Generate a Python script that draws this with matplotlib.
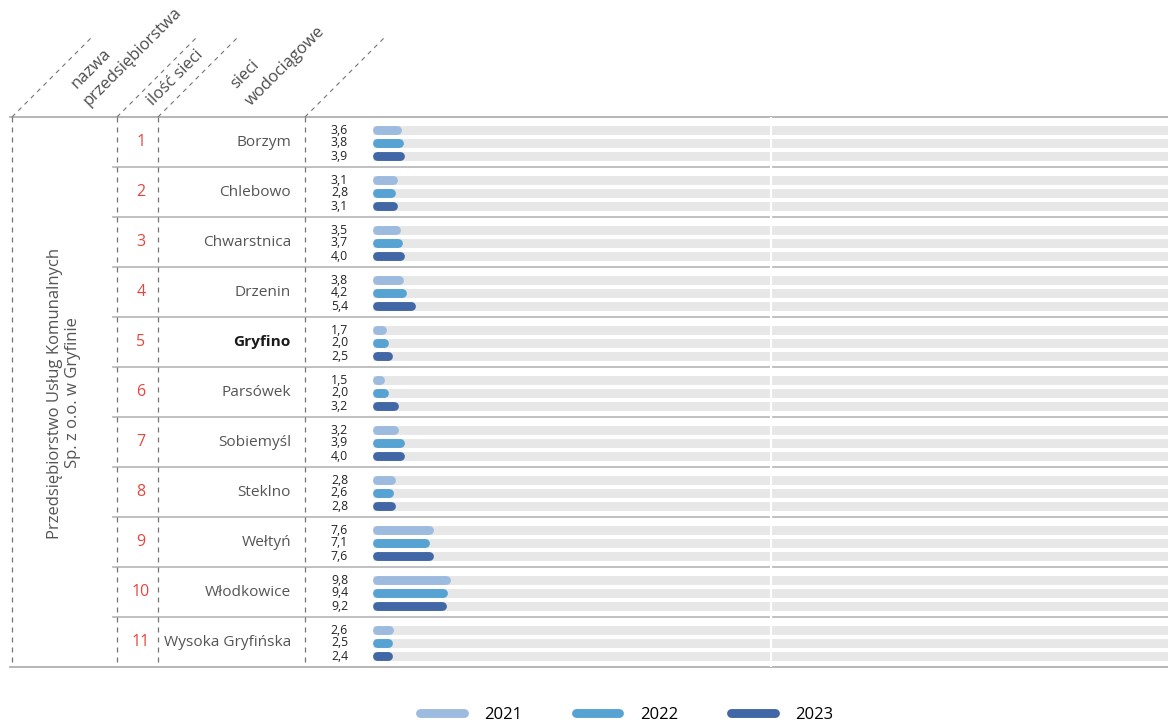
import matplotlib
matplotlib.use("Agg")
import matplotlib.pyplot as plt
from matplotlib.lines import Line2D
from matplotlib.transforms import blended_transform_factory

# ---------------- data ----------------
company = "Przedsiębiorstwo Usług Komunalnych\nSp. z o.o. w Gryfinie"
numbers = ["1", "2", "3", "4", "5", "6", "7", "8", "9", "10", "11"]
networks = ["Borzym", "Chlebowo", "Chwarstnica", "Drzenin", "Gryfino", "Parsówek",
            "Sobiemyśl", "Steklno", "Wełtyń", "Włodkowice", "Wysoka Gryfińska"]
years = ["2021", "2022", "2023"]
v2021 = [3.6, 3.1, 3.5, 3.8, 1.7, 1.5, 3.2, 2.8, 7.6, 9.8, 2.6]
v2022 = [3.8, 2.8, 3.7, 4.2, 2.0, 2.0, 3.9, 2.6, 7.1, 9.4, 2.5]
v2023 = [3.9, 3.1, 4.0, 5.4, 2.5, 3.2, 4.0, 2.8, 7.6, 9.2, 2.4]
series = [v2021, v2022, v2023]
bold_name = "Gryfino"

# ---------------- style ----------------
colors = ["#9dbadf", "#56a2d2", "#4267a6"]
track_color = "#e7e7e7"
W, H = 1168, 727
FONT = ["Open Sans", "DejaVu Sans"]
plt.rcParams["font.family"] = FONT

fig = plt.figure(figsize=(W / 100, H / 100), dpi=100)

# background axes in pixel coordinates (layout only)
bg = fig.add_axes([0, 0, 1, 1])
bg.set_xlim(0, W)
bg.set_ylim(H, 0)
bg.axis("off")

top_px, bot_px = 117, 667
left_px = 373
ax = fig.add_axes([left_px / W, (H - bot_px) / H, (W - left_px) / W, (bot_px - top_px) / H])
n = len(networks)
ax.set_xlim(0, 100)
ax.set_ylim(n, 0)
ax.axis("off")

offsets = [0.26, 0.52, 0.785]
lw_pt = 6.4
px_per_unit = (W - left_px) / 100.0
r = (lw_pt / 0.72) / 2 / px_per_unit  # cap radius in data units

# tracks
for i in range(n):
    for off in offsets:
        ax.plot([0, 100], [i + off, i + off], color=track_color, lw=lw_pt,
                solid_capstyle="butt", zorder=1)
ax.axvline(50, color="white", lw=1.6, zorder=2)

# bars
for k, vals in enumerate(series):
    for i, v in enumerate(vals):
        ax.plot([r, v - r], [i + offsets[k], i + offsets[k]], color=colors[k],
                lw=lw_pt, solid_capstyle="round", zorder=3)

# separators (between groups) through bar area and table
sep_color = "#b5b5b5"
for i in range(1, n):
    y = top_px + i * (bot_px - top_px) / n
    bg.plot([113, W], [y, y], color=sep_color, lw=1.2, zorder=0)
bg.plot([10, W], [top_px, top_px], color="#b0b0b0", lw=1.3)
bg.plot([10, W], [bot_px, bot_px], color="#b0b0b0", lw=1.3)

# dashed verticals and diagonal header lines
dash_color = "#757575"
for x in [12, 117, 158, 305]:
    bg.plot([x, x], [top_px, bot_px], color=dash_color, lw=0.9, ls=(0, (4, 4)))
    bg.plot([x, x + 80], [top_px, top_px - 80], color=dash_color, lw=0.8, ls=(0, (4, 4)))

# header texts (rotated 45)
hdr_kw = dict(rotation=45, rotation_mode="anchor", ha="left", va="baseline",
              color="#4d4d4d", fontsize=12)
bg.text(77, 89, "nazwa", **hdr_kw)
bg.text(89, 106, "przedsiębiorstwa", **hdr_kw)
bg.text(153, 106, "ilość sieci", **hdr_kw)
bg.text(236, 89, "sieci", **hdr_kw)
bg.text(251, 106, "wodociągowe", **hdr_kw)

# company vertical label
bg.text(64, 393, company, rotation=90, ha="center", va="center", multialignment="center",
        color="#555555", fontsize=12, linespacing=1.2)

# row labels
tr = blended_transform_factory(bg.transData, ax.transData)
for i in range(n):
    bg.text(141, i + 0.5, numbers[i], transform=tr, ha="center", va="center",
            color="#e5473d", fontsize=11.5)
    bold = networks[i] == bold_name
    bg.text(291, i + 0.5, networks[i], transform=tr, ha="right", va="center",
            color="#1a1a1a" if bold else "#555555", fontsize=11.1,
            fontweight="bold" if bold else "normal")
    for k, vals in enumerate(series):
        bg.text(348, i + offsets[k], f"{vals[i]:.1f}".replace(".", ","), transform=tr,
                ha="right", va="center", color="#222222", fontsize=8.8)

# legend
handles = [Line2D([0], [0], color=c, lw=lw_pt, solid_capstyle="round") for c in colors]
fig.legend(handles, years, loc="center", bbox_to_anchor=(627 / W, 12 / H), ncol=3,
           frameon=False, handlelength=2.6, handletextpad=1.25, columnspacing=3.2,
           prop={"family": FONT, "size": 12})

fig.savefig("out.png", dpi=100, facecolor="white")
